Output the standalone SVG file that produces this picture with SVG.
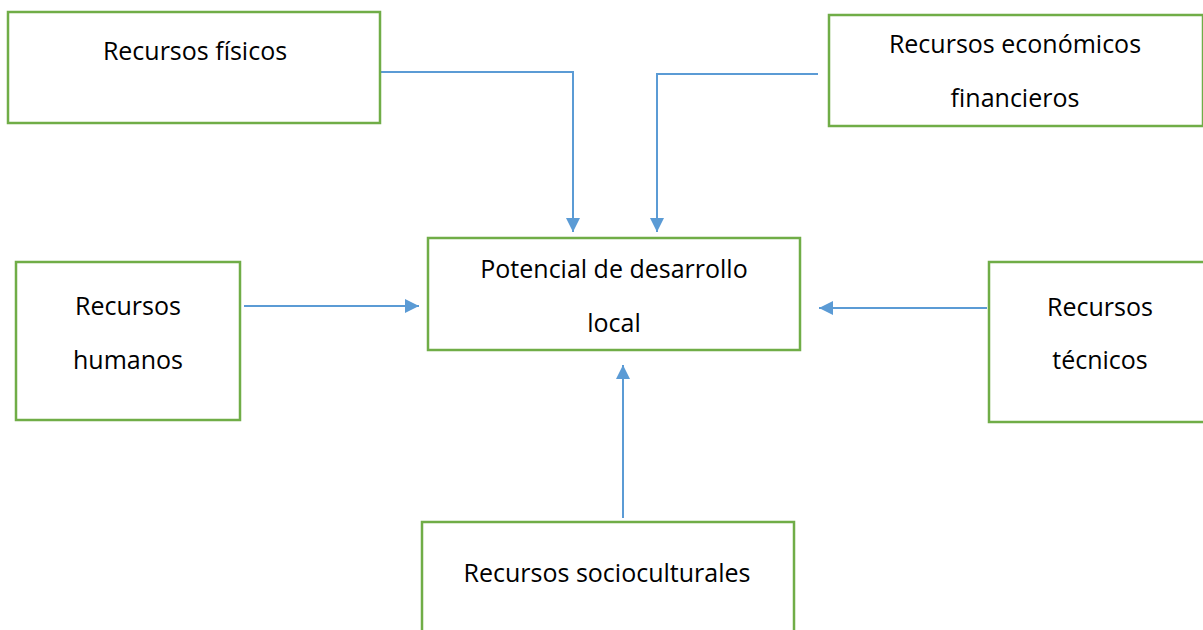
<svg xmlns="http://www.w3.org/2000/svg" width="1203" height="630" viewBox="0 0 1203 630">
<style>
.box{fill:#fff;stroke:#70AD47;stroke-width:2.5}
.t{font-family:"Open Sans","Liberation Sans",sans-serif;font-size:25px;fill:#000;text-anchor:middle}
.c{fill:none;stroke:#5B9BD5;stroke-width:2}
</style>
<defs>
<marker id="ah" viewBox="0 0 10 10" refX="10" refY="5" markerWidth="7.5" markerHeight="7" markerUnits="strokeWidth" orient="auto">
<path d="M0,0 L10,5 L0,10 Z" fill="#5B9BD5"/>
</marker>
</defs>
<rect width="1203" height="630" fill="#fff"/>
<g id="connectors">
<path class="c" d="M380,72 H573 V232" marker-end="url(#ah)"/>
<path class="c" d="M818,74 H657 V232" marker-end="url(#ah)"/>
<path class="c" d="M244,306 H419" marker-end="url(#ah)"/>
<path class="c" d="M987,308 H819" marker-end="url(#ah)"/>
<path class="c" d="M623,518 V365" marker-end="url(#ah)"/>
</g>
<g id="n-fisicos">
<rect class="box" x="8" y="12" width="372" height="111"/>
<text class="t" x="195" y="60">Recursos físicos</text>
</g>
<g id="n-economicos">
<rect class="box" x="829" y="15" width="374" height="111"/>
<text class="t" x="1015" y="53">Recursos económicos</text>
<text class="t" x="1015" y="107">financieros</text>
</g>
<g id="n-potencial">
<rect class="box" x="428" y="238" width="372" height="112"/>
<text class="t" x="614" y="278">Potencial de desarrollo</text>
<text class="t" x="614" y="332">local</text>
</g>
<g id="n-humanos">
<rect class="box" x="16" y="262" width="224" height="158"/>
<text class="t" x="128" y="315">Recursos</text>
<text class="t" x="128" y="369">humanos</text>
</g>
<g id="n-tecnicos">
<rect class="box" x="989" y="262" width="216" height="160"/>
<text class="t" x="1100" y="316">Recursos</text>
<text class="t" x="1100" y="369">técnicos</text>
</g>
<g id="n-socioculturales">
<rect class="box" x="422" y="522" width="372" height="120"/>
<text class="t" x="607" y="582">Recursos socioculturales</text>
</g>
</svg>
